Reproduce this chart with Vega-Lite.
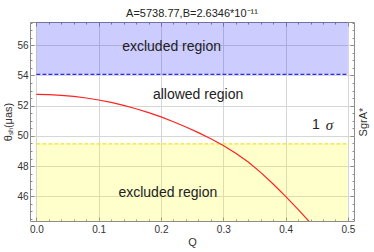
{
  "$schema": "https://vega.github.io/schema/vega-lite/v6.json",
  "width": 324,
  "height": 199,
  "autosize": {"type": "none"},
  "padding": {"left": 30, "top": 22, "right": 20, "bottom": 31},
  "title": {"text": "A=5738.77,B=2.6346*10⁻¹¹", "fontSize": 11, "font": "Liberation Sans", "fontWeight": "normal", "color": "#222", "offset": 3, "anchor": "middle"},
  "config": {
    "view": {"stroke": "#8c8c8c", "strokeWidth": 1},
    "axis": {"labelFont": "Liberation Sans", "titleFont": "Liberation Sans", "labelFontSize": 10, "titleFontSize": 11, "titleFontWeight": "normal", "labelColor": "#333", "titleColor": "#333", "domain": false, "tickColor": "#8c8c8c", "gridColor": "#d6d6d6", "gridWidth": 1}
  },
  "datasets": {
    "curve": [
      {"Q": 0.00, "theta": 52.75}, {"Q": 0.02, "theta": 52.74}, {"Q": 0.04, "theta": 52.69},
      {"Q": 0.06, "theta": 52.62}, {"Q": 0.08, "theta": 52.51}, {"Q": 0.10, "theta": 52.38},
      {"Q": 0.12, "theta": 52.22}, {"Q": 0.14, "theta": 52.02}, {"Q": 0.16, "theta": 51.80},
      {"Q": 0.18, "theta": 51.54}, {"Q": 0.20, "theta": 51.26}, {"Q": 0.22, "theta": 50.94},
      {"Q": 0.24, "theta": 50.59}, {"Q": 0.26, "theta": 50.22}, {"Q": 0.28, "theta": 49.81},
      {"Q": 0.30, "theta": 49.37}, {"Q": 0.32, "theta": 48.86}, {"Q": 0.34, "theta": 48.27},
      {"Q": 0.36, "theta": 47.59}, {"Q": 0.38, "theta": 46.82}, {"Q": 0.40, "theta": 46.00},
      {"Q": 0.42, "theta": 45.14}, {"Q": 0.44, "theta": 44.24}, {"Q": 0.46, "theta": 43.30}
    ],
    "regions": [
      {"Q0": 0, "Q1": 0.5, "lo": 54.08, "hi": 58, "edge": 54.08, "name": "upper"},
      {"Q0": 0, "Q1": 0.5, "lo": 44, "hi": 49.47, "edge": 49.47, "name": "lower"}
    ],
    "labels": [
      {"Q": 0.217, "theta": 55.9, "label": "excluded region"},
      {"Q": 0.2595, "theta": 52.71, "label": "allowed region"},
      {"Q": 0.211, "theta": 46.25, "label": "excluded region"},
      {"Q": 0.4488, "theta": 50.72, "label": "1"}
    ],
    "sigma": [
      {"Q": 0.4705, "theta": 50.72, "label": "σ"}
    ]
  },
  "resolve": {"axis": {"x": "independent", "y": "independent"}},
  "layer": [
    {
      "data": {"name": "regions"},
      "mark": {"type": "rect", "opacity": 0.2, "clip": true},
      "encoding": {
        "x": {"field": "Q0", "type": "quantitative", "scale": {"domain": [-0.0103, 0.5098], "nice": false, "zero": false},
              "axis": {"orient": "bottom", "values": [0, 0.1, 0.2, 0.3, 0.4, 0.5], "format": ".1f", "tickSize": -4, "labelPadding": 7, "grid": true, "title": "Q", "titlePadding": 2}},
        "x2": {"field": "Q1"},
        "y": {"field": "lo", "type": "quantitative", "scale": {"domain": [44.37, 57.54], "nice": false, "zero": false},
              "axis": {"orient": "left", "values": [46, 48, 50, 52, 54, 56], "format": "d", "tickSize": -4, "labelPadding": 6, "grid": true, "title": "θₛₕ(μas)", "titlePadding": 3}},
        "y2": {"field": "hi"},
        "fill": {"field": "name", "type": "nominal", "scale": {"domain": ["upper", "lower"], "range": ["#0000ff", "#ffff00"]}, "legend": null}
      }
    },
    {
      "data": {"name": "regions"},
      "mark": {"type": "rule", "strokeDash": [4, 2], "strokeWidth": 1.3},
      "encoding": {
        "x": {"field": "Q0", "type": "quantitative", "scale": {"domain": [-0.0103, 0.5098], "nice": false, "zero": false},
              "axis": {"orient": "bottom", "values": [0, 0.02, 0.04, 0.06, 0.08, 0.1, 0.12, 0.14, 0.16, 0.18, 0.2, 0.22, 0.24, 0.26, 0.28, 0.3, 0.32, 0.34, 0.36, 0.38, 0.4, 0.42, 0.44, 0.46, 0.48, 0.5], "labels": false, "tickSize": -2, "grid": false, "title": null}},
        "x2": {"field": "Q1"},
        "y": {"field": "edge", "type": "quantitative", "scale": {"domain": [44.37, 57.54], "nice": false, "zero": false},
              "axis": {"orient": "left", "values": [44.5, 45, 45.5, 46, 46.5, 47, 47.5, 48, 48.5, 49, 49.5, 50, 50.5, 51, 51.5, 52, 52.5, 53, 53.5, 54, 54.5, 55, 55.5, 56, 56.5, 57, 57.5], "labels": false, "tickSize": -2, "grid": false, "title": null}},
        "stroke": {"field": "name", "type": "nominal", "scale": {"domain": ["upper", "lower"], "range": ["#2a2aff", "#f2e41c"]}, "legend": null}
      }
    },
    {
      "data": {"name": "curve"},
      "mark": {"type": "line", "color": "#ff2222", "strokeWidth": 1.2, "clip": true},
      "encoding": {
        "x": {"field": "Q", "type": "quantitative", "scale": {"domain": [-0.0103, 0.5098], "nice": false, "zero": false},
              "axis": {"orient": "top", "values": [0, 0.1, 0.2, 0.3, 0.4, 0.5], "labels": false, "tickSize": -4, "grid": false, "title": null}},
        "y": {"field": "theta", "type": "quantitative", "scale": {"domain": [44.37, 57.54], "nice": false, "zero": false},
              "axis": {"orient": "right", "values": [46, 48, 50, 52, 54, 56], "labels": false, "tickSize": -4, "grid": false, "title": "SgrA*", "titleAngle": 270, "titleBaseline": "top", "titlePadding": 3}}
      }
    },
    {
      "data": {"name": "labels"},
      "mark": {"type": "text", "font": "Liberation Sans", "fontSize": 14, "color": "#222", "baseline": "middle", "align": "center"},
      "encoding": {
        "x": {"field": "Q", "type": "quantitative", "scale": {"domain": [-0.0103, 0.5098], "nice": false, "zero": false},
              "axis": {"orient": "top", "values": [0, 0.02, 0.04, 0.06, 0.08, 0.1, 0.12, 0.14, 0.16, 0.18, 0.2, 0.22, 0.24, 0.26, 0.28, 0.3, 0.32, 0.34, 0.36, 0.38, 0.4, 0.42, 0.44, 0.46, 0.48, 0.5], "labels": false, "tickSize": -2, "grid": false, "title": null}},
        "y": {"field": "theta", "type": "quantitative", "scale": {"domain": [44.37, 57.54], "nice": false, "zero": false},
              "axis": {"orient": "right", "values": [44.5, 45, 45.5, 46, 46.5, 47, 47.5, 48, 48.5, 49, 49.5, 50, 50.5, 51, 51.5, 52, 52.5, 53, 53.5, 54, 54.5, 55, 55.5, 56, 56.5, 57, 57.5], "labels": false, "tickSize": -2, "grid": false, "title": null}},
        "text": {"field": "label"}
      }
    },
    {
      "data": {"name": "sigma"},
      "mark": {"type": "text", "font": "Liberation Serif", "fontStyle": "italic", "fontSize": 15, "color": "#222", "baseline": "middle", "align": "center"},
      "encoding": {
        "x": {"field": "Q", "type": "quantitative", "scale": {"domain": [-0.0103, 0.5098], "nice": false, "zero": false}, "axis": null},
        "y": {"field": "theta", "type": "quantitative", "scale": {"domain": [44.37, 57.54], "nice": false, "zero": false}, "axis": null},
        "text": {"field": "label"}
      }
    }
  ]
}
